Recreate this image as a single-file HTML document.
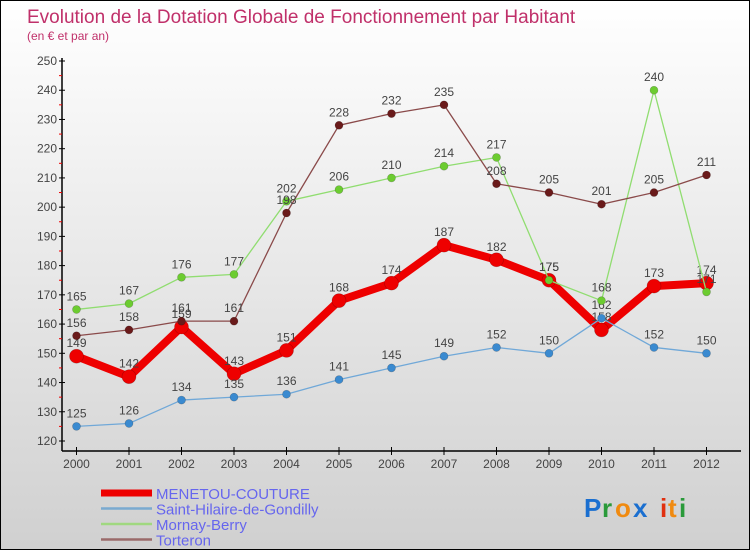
<!DOCTYPE html>
<html><head><meta charset="utf-8"><style>
body{margin:0}
#c{position:relative;width:748px;height:548px;border:1px solid #000;background:linear-gradient(#fff,#d0d0d0);overflow:hidden;font-family:"Liberation Sans",sans-serif}
</style></head><body>
<div id="c">
<svg width="748" height="548" xmlns="http://www.w3.org/2000/svg" id="svg">
<text x="26" y="22" font-size="19" fill="#c0306a">Evolution de la Dotation Globale de Fonctionnement par Habitant</text>
<text x="26" y="39" font-size="12" fill="#c0306a">(en € et par an)</text>
<g id="axes"></g><g id="series"></g><g id="legend"></g>
<g font-size="26" font-weight="bold">
<text x="583" y="516" fill="#1a6fd0">P</text><text x="601" y="516" fill="#2a9a3a">r</text><text x="614" y="516" fill="#f08a10">o</text><text x="632" y="516" fill="#1a6fd0">x</text><text x="659" y="516" fill="#e03010">i</text><text x="667" y="516" fill="#f08a10">t</text><text x="678" y="516" fill="#2a9a3a">i</text>
</g>
</svg></div>
<script>
const years=[2000,2001,2002,2003,2004,2005,2006,2007,2008,2009,2010,2011,2012];
const yTicks=[120,130,140,150,160,170,180,190,200,210,220,230,240,250];
const menetou=[149,142,159,143,151,168,174,187,182,175,158,173,174];
const saintHilaire=[125,126,134,135,136,141,145,149,152,150,162,152,150];
const mornay=[165,167,176,177,202,206,210,214,217,175,168,240,171];
const torteron=[156,158,161,161,198,228,232,235,208,205,201,205,211];
const NS="http://www.w3.org/2000/svg";
const X=i=>75.5+i*52.5, Y=v=>60+(250-v)*2.923;
function mk(t,a,p){const e=document.createElementNS(NS,t);for(const k in a)e.setAttribute(k,a[k]);p.appendChild(e);return e;}
const ax=document.getElementById('axes');
mk('line',{x1:61,y1:57,x2:61,y2:450,stroke:'#000','stroke-width':1.5},ax);
mk('line',{x1:61,y1:450,x2:740,y2:450,stroke:'#000','stroke-width':1.5},ax);
yTicks.forEach(v=>{
 const y=Y(v);
 mk('line',{x1:58,y1:y,x2:64,y2:y,stroke:'#000'},ax);
 const t=mk('text',{x:56,y:y+4,'font-size':12,fill:'#444','text-anchor':'end'},ax);t.textContent=v;
 
 
 if(v<250) mk('line',{x1:58,y1:Y(v+5),x2:61,y2:Y(v+5),stroke:'#e00'},ax);
});
years.forEach((yr,i)=>{
 mk('line',{x1:X(i),y1:446,x2:X(i),y2:454,stroke:'#000'},ax);
 const t=mk('text',{x:X(i),y:467,'font-size':12,fill:'#444','text-anchor':'middle'},ax);t.textContent=yr;
 
 
});
const S=document.getElementById('series');
const defs=[
 {d:menetou,c:'#ee0000',w:8,r:7,name:'menetou-couture'},
 {d:saintHilaire,c:'#3a8ad0',w:1.3,r:4,name:'saint-hilaire-de-gondilly',lc:'#70a8d8'},
 {d:mornay,c:'#6ccc30',w:1.3,r:4,name:'mornay-berry',lc:'#90dd70'},
 {d:torteron,c:'#6a1a1a',w:1.3,r:4,name:'torteron',lc:'#8a4a4a'}];
defs.forEach(s=>{
 const g=mk('g',{},S);
 
 
 const p=mk('polyline',{points:s.d.map((v,i)=>X(i)+','+Y(v)).join(' '),fill:'none',stroke:s.lc||s.c,'stroke-width':s.w,'stroke-linejoin':'round'},g);
 
 
 s.d.forEach((v,i)=>{
  const c=mk('circle',{cx:X(i),cy:Y(v),r:s.r,fill:s.c,stroke:'rgba(0,0,0,0.25)','stroke-width':0.6},g);
  
  
  const t=mk('text',{x:X(i),y:Y(v)-9,'font-size':12,fill:'#444','text-anchor':'middle'},g);t.textContent=v;
  
  
 });
});
const L=document.getElementById('legend');
const leg=[['MENETOU-COUTURE','#ee0000',7],['Saint-Hilaire-de-Gondilly','#7aaad0',2.5],['Mornay-Berry','#a0d880',2.5],['Torteron','#9a6a6a',2.5]];
leg.forEach((l,i)=>{
 const y=492+i*15.5;
 const ln=mk('line',{x1:100,y1:y,x2:151,y2:y,stroke:l[1],'stroke-width':l[2]},L);
 
 
 const t=mk('text',{x:155,y:y+6,'font-size':15,fill:'#6666ee'},L);t.textContent=l[0];
 
 
});
</script>
</body></html>
